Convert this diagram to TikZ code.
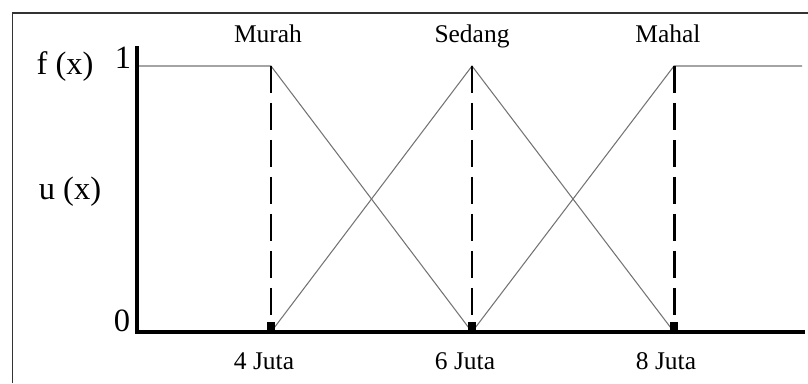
\documentclass[tikz,border=0pt]{standalone}
\usepackage{fontspec}
\setmainfont{Liberation Serif}
\usetikzlibrary{positioning}

\begin{document}
\begin{tikzpicture}[x=0.02cm,y=-0.02cm]
	\tikzset{lbl/.style={font=\fontsize{14.5}{16}\selectfont,anchor=base,inner sep=0pt},
		ylbl/.style={font=\fontsize{18.5}{21}\selectfont,anchor=base,inner sep=0pt},
		member/.style={draw=black!55,line width=0.6pt},
		axis/.style={line width=1.8pt},
		guide/.style={line width=1.7pt,dash pattern=on 0.54cm off 0.2cm},
		tickmark/.style={fill=black,inner sep=0pt,minimum width=0.15cm,minimum height=0.25cm}}
	\useasboundingbox (0,0) rectangle (808,383);
	%% frame
	\draw[line width=0.8pt,black!80] (12.5,383) -- (12.5,13) -- (808,13);

	\coordinate (o) at (137,332);
	\coordinate (ytop) at (137,46);
	\coordinate (xend) at (805,332);
	\coordinate (one) at (137,66);
	\coordinate (pmurah) at (271,66);
	\coordinate (psedang) at (472,66);
	\coordinate (pmahal) at (674,66);
	\coordinate (rend) at (802,66);
	\coordinate (x4) at (271,332);
	\coordinate (x6) at (472,332);
	\coordinate (x8) at (674,332);
	\coordinate (g4) at (271,322);
	\coordinate (g6) at (472,322);
	\coordinate (g8) at (674,322);

	%% membership functions
	\draw[member] (one) -- (pmurah) -- (x6);
	\draw[member] (x4) -- (psedang) -- (x8);
	\draw[member] (x6) -- (pmahal) -- (rend);

	%% guides
	\draw[guide] (pmurah) -- (g4);
	\draw[guide] (psedang) -- (g6);
	\draw[guide] (pmahal) -- (g8);
	\node[tickmark] (t4) at (271,328) {};
	\node[tickmark] (t6) at (472,328) {};
	\node[tickmark] (t8) at (674,328) {};

	%% axes
	\draw[axis] (ytop) -- (o) -- (xend);

	%% labels
	\node[lbl] (murah) at (268,42) {Murah};
	\node[lbl] (sedang) at (472,42) {Sedang};
	\node[lbl] (mahal) at (668,42) {Mahal};
	\node[lbl] (j4) at (264,369) {4 Juta};
	\node[lbl] (j6) at (465,369) {6 Juta};
	\node[lbl] (j8) at (666,369) {8 Juta};
	\node[ylbl] (fx) at (65,74) {f (x)};
	\node[ylbl] (ux) at (70,199) {u (x)};
	\node[ylbl] (lone) at (123,68) {1};
	\node[ylbl] (lzero) at (122,331) {0};
\end{tikzpicture}
\end{document}
